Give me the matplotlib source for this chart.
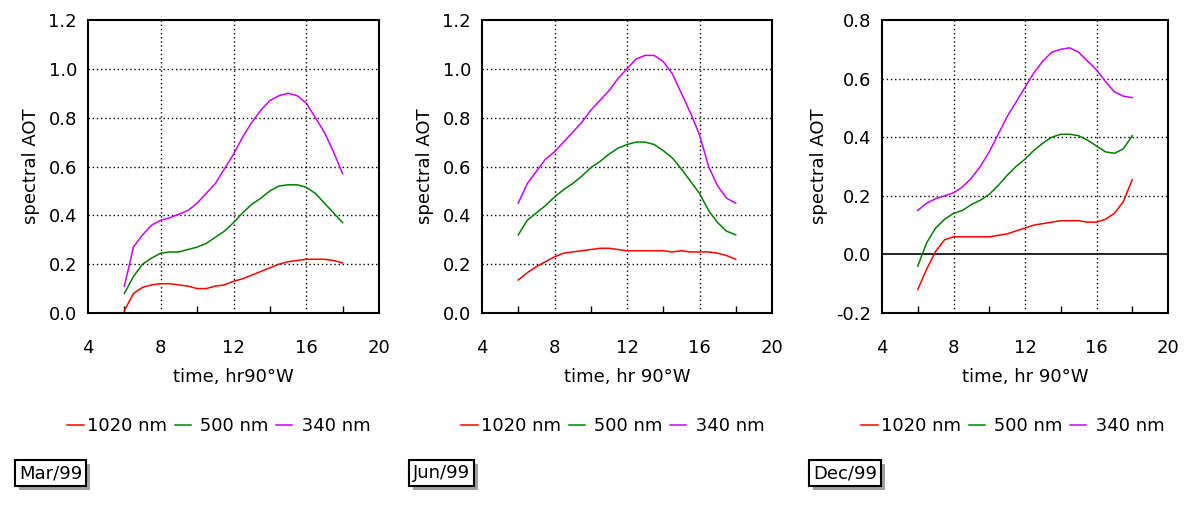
import matplotlib
matplotlib.use('Agg')
import matplotlib.pyplot as plt
import matplotlib.patheffects as pe
from matplotlib.lines import Line2D

plt.rcParams['font.family'] = ['DejaVu Sans']
plt.rcParams['font.size'] = 13

hours = [6, 6.5, 7, 7.5, 8, 8.5, 9, 9.5, 10, 10.5, 11, 11.5, 12,
         12.5, 13, 13.5, 14, 14.5, 15, 15.5, 16, 16.5, 17, 17.5, 18]

# Mar/99
mar_1020 = [0.01, 0.08, 0.105, 0.115, 0.12, 0.12, 0.115, 0.11, 0.10, 0.10, 0.11, 0.115, 0.13,
            0.14, 0.155, 0.17, 0.185, 0.20, 0.21, 0.215, 0.22, 0.22, 0.22, 0.215, 0.205]
mar_500 = [0.08, 0.15, 0.20, 0.225, 0.245, 0.25, 0.25, 0.26, 0.27, 0.285, 0.31, 0.335, 0.37,
           0.41, 0.445, 0.47, 0.50, 0.52, 0.525, 0.525, 0.515, 0.49, 0.45, 0.41, 0.37]
mar_340 = [0.11, 0.27, 0.32, 0.36, 0.38, 0.39, 0.405, 0.42, 0.45, 0.49, 0.53, 0.59, 0.65,
           0.72, 0.78, 0.83, 0.87, 0.89, 0.90, 0.89, 0.86, 0.80, 0.74, 0.66, 0.57]

# Jun/99
jun_1020 = [0.135, 0.165, 0.19, 0.21, 0.23, 0.245, 0.25, 0.255, 0.26, 0.265, 0.265, 0.26, 0.255,
            0.255, 0.255, 0.255, 0.255, 0.25, 0.255, 0.25, 0.25, 0.25, 0.245, 0.235, 0.22]
jun_500 = [0.32, 0.38, 0.41, 0.44, 0.475, 0.505, 0.53, 0.56, 0.595, 0.62, 0.65, 0.675, 0.69,
           0.70, 0.70, 0.69, 0.665, 0.635, 0.59, 0.54, 0.49, 0.42, 0.37, 0.335, 0.32]
jun_340 = [0.45, 0.53, 0.58, 0.63, 0.66, 0.70, 0.74, 0.78, 0.83, 0.87, 0.91, 0.96, 1.00,
           1.04, 1.055, 1.055, 1.03, 0.98, 0.90, 0.82, 0.73, 0.60, 0.52, 0.47, 0.45]

# Dec/99
dec_1020 = [-0.12, -0.05, 0.01, 0.05, 0.06, 0.06, 0.06, 0.06, 0.06, 0.065, 0.07, 0.08, 0.09,
            0.10, 0.105, 0.11, 0.115, 0.115, 0.115, 0.11, 0.11, 0.12, 0.14, 0.18, 0.255]
dec_500 = [-0.04, 0.04, 0.09, 0.12, 0.14, 0.15, 0.17, 0.185, 0.205, 0.235, 0.27, 0.30, 0.325,
           0.355, 0.38, 0.40, 0.41, 0.41, 0.405, 0.39, 0.37, 0.35, 0.345, 0.36, 0.405]
dec_340 = [0.15, 0.175, 0.19, 0.20, 0.21, 0.23, 0.26, 0.30, 0.35, 0.41, 0.47, 0.52, 0.57,
           0.62, 0.66, 0.69, 0.70, 0.705, 0.69, 0.66, 0.63, 0.59, 0.555, 0.54, 0.535]

labels = ['1020 nm', ' 500 nm', ' 340 nm']
colors = ['#ff0000', '#008000', '#cc00ff']
months = ['Mar/99', 'Jun/99', 'Dec/99']
xlabels = ['time, hr90°W', 'time, hr 90°W', 'time, hr 90°W']
series = [[mar_1020, mar_500, mar_340],
          [jun_1020, jun_500, jun_340],
          [dec_1020, dec_500, dec_340]]
ylims = [(0, 1.2), (0, 1.2), (-0.2, 0.8)]
yticks = [[0.0, 0.2, 0.4, 0.6, 0.8, 1.0, 1.2],
          [0.0, 0.2, 0.4, 0.6, 0.8, 1.0, 1.2],
          [-0.2, 0.0, 0.2, 0.4, 0.6, 0.8]]

lefts = [88, 482, 882]
widths = [291, 290, 286]
W, H = 1185, 508

fig = plt.figure(figsize=(W / 100, H / 100), dpi=100)

for i in range(3):
    ax = fig.add_axes([lefts[i] / W, 1 - 313 / H, widths[i] / W, 293 / H])
    for s, c in zip(series[i], colors):
        ax.plot(hours, s, color=c, lw=1.1)
    ax.set_xlim(4, 20)
    ax.set_ylim(*ylims[i])
    ax.set_xticks([4, 8, 12, 16, 20])
    ax.set_xticks([6, 10, 14, 18], minor=True)
    ax.set_yticks(yticks[i])
    ax.set_yticklabels(['%.1f' % v for v in yticks[i]])
    ax.tick_params(axis='y', which='major', length=0, pad=8)
    ax.tick_params(axis='x', which='major', length=0, pad=19)
    ax.tick_params(axis='x', which='minor', direction='in', length=5, width=1, top=False)
    for sp in ax.spines.values():
        sp.set_linewidth(1.5)
    # dotted grid, skip the frame edges
    for xv in [8, 12, 16]:
        ax.axvline(xv, color='black', lw=1, ls=(0, (1, 2)), zorder=0)
    for yv in yticks[i][1:-1]:
        if abs(yv) < 1e-9 and i == 2:
            ax.axhline(0, color='black', lw=1.2, zorder=1)
        else:
            ax.axhline(yv, color='black', lw=1, ls=(0, (1, 2)), zorder=0)
    ax.set_xlabel(xlabels[i], labelpad=8)
    ax.set_ylabel('spectral AOT', labelpad=6)

    handles = [Line2D([], [], color=c, lw=1.1) for c in colors]
    fig.legend(handles, labels, loc='center',
               bbox_to_anchor=((lefts[i] - 20 + 151) / W, 1 - 426 / H),
               ncol=3, frameon=False, handlelength=0.9, handletextpad=0.2,
               columnspacing=0.4, fontsize=13)

    t = fig.text((lefts[i] - 69) / W, 1 - 473 / H, months[i], fontsize=13,
                 va='center', ha='left',
                 bbox=dict(boxstyle='square,pad=0.22', fc='white', ec='black', lw=1.5))
    t.get_bbox_patch().set_path_effects([
        pe.SimplePatchShadow(offset=(3, -3), shadow_rgbFace='#888888', alpha=0.8),
        pe.Normal()])

fig.savefig('out.png', dpi=100)
